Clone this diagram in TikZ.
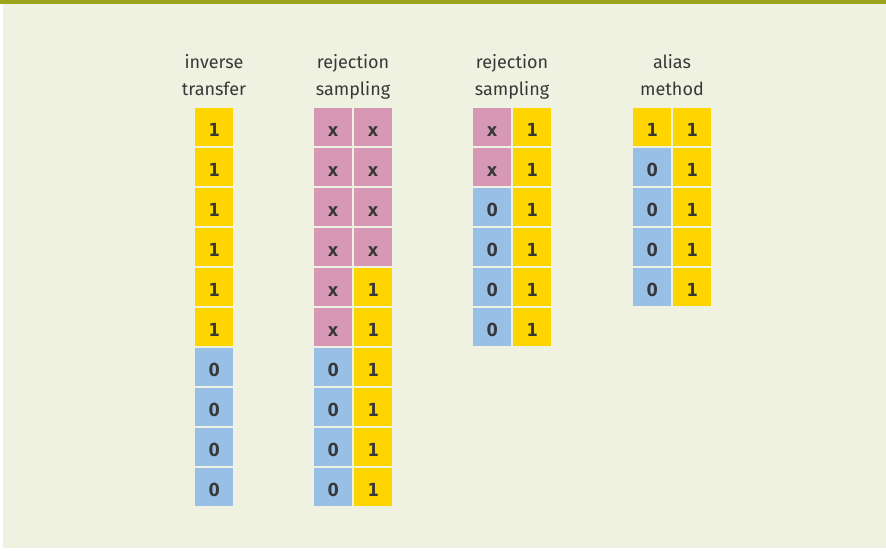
\documentclass[tikz,border=0pt]{standalone}
\usepackage{fontspec}
\setmainfont{Fira Sans}
\newfontfamily\cellfont{DejaVu Sans Condensed}
\usepackage{xcolor}
\usepackage{tikz}
\definecolor{bgpanel}{HTML}{EFF1E1}
\definecolor{topbar}{HTML}{9DA31B}
\definecolor{inktext}{HTML}{383838}
\definecolor{celly}{HTML}{FFD500}
\definecolor{cellp}{HTML}{D698B4}
\definecolor{cellb}{HTML}{98BFE6}
\tikzset{
  cell/.style={anchor=north west, minimum width=38pt, minimum height=38pt, inner sep=0pt,
    text height=18pt, text depth=0pt, font=\cellfont\bfseries\fontsize{18}{18}\selectfont, text=inktext},
  c1/.style={cell, fill=celly},
  c0/.style={cell, fill=cellb},
  cx/.style={cell, fill=cellp},
  head/.style={anchor=base, align=center, text=inktext, inner sep=0pt,
    font=\fontsize{18}{27}\selectfont},
}
\begin{document}
\begin{tikzpicture}[x=1pt, y=-1pt]
\useasboundingbox (0,0) rectangle (886,550);
\fill[white] (0,0) rectangle (886,550);
\fill[bgpanel] (3,0) rectangle (886,548);
\fill[topbar] (0,0) rectangle (886,4);
% headers
\node[head] (hinv) at (214,95) {inverse\\transfer};
\node[head] (hrej) at (353,95) {rejection\\sampling};
\node[head] (hrejb) at (512,95) {rejection\\sampling};
\node[head] (halias) at (672,95) {alias\\method};
% inverse transfer
\foreach \v [count=\i from 0] in {1,1,1,1,1,1,0,0,0,0}
  \node[c\v] (inv\i) at (195,108+40*\i) {\v};
% rejection sampling, ten rows
\foreach \v [count=\i from 0] in {x,x,x,x,x,x,0,0,0,0}
  \node[c\v] (rla\i) at (314,108+40*\i) {\v};
\foreach \v [count=\i from 0] in {x,x,x,x,1,1,1,1,1,1}
  \node[c\v] (rlb\i) at (354,108+40*\i) {\v};
% rejection sampling, six rows
\foreach \v [count=\i from 0] in {x,x,0,0,0,0}
  \node[c\v] (rsa\i) at (473,108+40*\i) {\v};
\foreach \v [count=\i from 0] in {1,1,1,1,1,1}
  \node[c\v] (rsb\i) at (513,108+40*\i) {\v};
% alias method
\foreach \v [count=\i from 0] in {1,0,0,0,0}
  \node[c\v] (ala\i) at (633,108+40*\i) {\v};
\foreach \v [count=\i from 0] in {1,1,1,1,1}
  \node[c\v] (alb\i) at (673,108+40*\i) {\v};
\end{tikzpicture}
\end{document}
